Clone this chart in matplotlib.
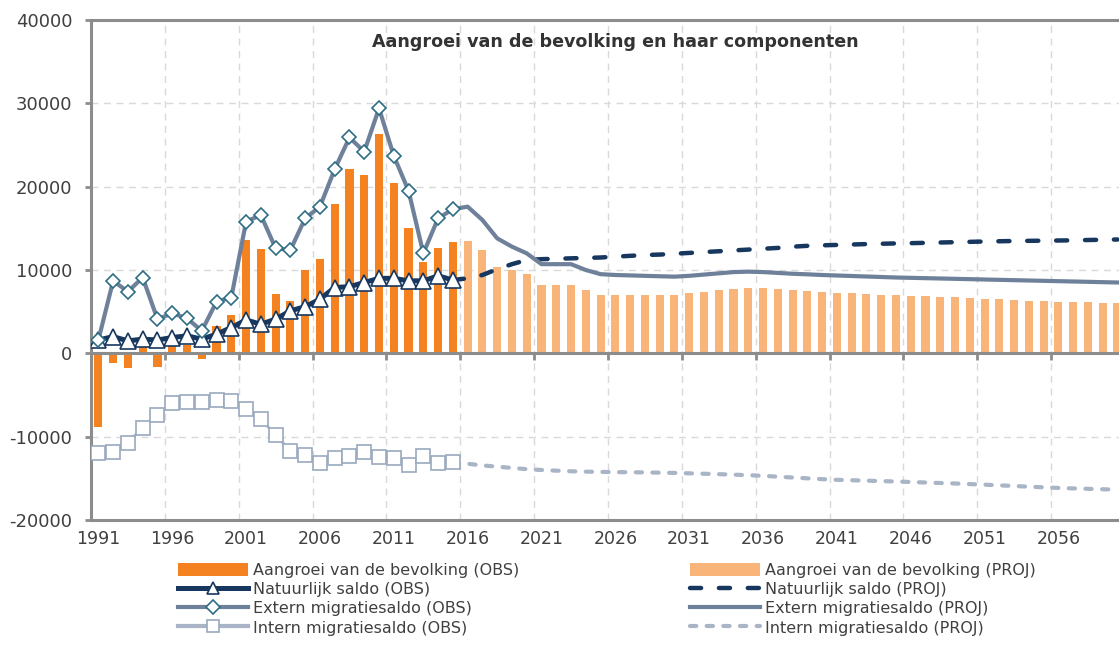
import matplotlib
matplotlib.use("Agg")
import matplotlib.pyplot as plt
from matplotlib.lines import Line2D
from matplotlib.patches import Patch
import numpy as np

# ---------------- data ----------------
years_obs = list(range(1991, 2016))
years_proj_bar = list(range(2016, 2061))
years_proj_line = list(range(2015, 2061))

growth_obs = [-8800, -1100, -1800, 1900, -1600, 1300, 1000, -700, 3300, 4600,
              13600, 12500, 7100, 6300, 10000, 11300, 17900, 22100, 21400, 26300,
              20400, 15100, 11000, 12600, 13400]
growth_proj = [13440, 12360, 10360, 9960, 9520, 8160, 8200, 8240, 7600, 7040,
               6960, 6960, 7000, 7000, 7000, 7240, 7400, 7600, 7760, 7880,
               7800, 7680, 7560, 7480, 7360, 7280, 7200, 7120, 7040, 7000,
               6920, 6840, 6800, 6720, 6640, 6560, 6480, 6400, 6320, 6240,
               6200, 6160, 6120, 6080, 6040]

natural_obs = [1600, 2000, 1500, 1700, 1600, 1900, 2100, 1700, 2300, 3100,
               4000, 3500, 4100, 5100, 5600, 6500, 7900, 8000, 8500, 9000,
               9000, 8700, 8700, 9300, 8800]
natural_proj = [8800, 9000, 9400, 10100, 10700, 11200, 11300, 11350, 11400, 11450,
                11500, 11600, 11700, 11800, 11850, 11950, 12050, 12150, 12250, 12350,
                12450, 12550, 12650, 12800, 12900, 12960, 13010, 13060, 13110, 13150,
                13190, 13220, 13260, 13300, 13340, 13380, 13420, 13450, 13480, 13500,
                13520, 13540, 13560, 13600, 13630, 13660]

extern_obs = [1600, 8700, 7400, 9100, 4100, 4800, 4200, 2700, 6200, 6700,
              15800, 16600, 12600, 12400, 16200, 17600, 22100, 25900, 24200, 29400,
              23700, 19500, 12000, 16200, 17300]
extern_proj = [17300, 17600, 16000, 13800, 12800, 12000, 10700, 10700, 10700, 10000,
               9500, 9400, 9350, 9300, 9250, 9200, 9300, 9450, 9600, 9750,
               9800, 9750, 9650, 9550, 9480, 9400, 9340, 9280, 9220, 9160,
               9100, 9060, 9020, 8980, 8940, 8900, 8860, 8820, 8780, 8740,
               8700, 8660, 8620, 8580, 8540, 8500]

intern_obs = [-12000, -11800, -10700, -8900, -7400, -6000, -5800, -5800, -5600, -5700,
              -6700, -7900, -9800, -11700, -12200, -13200, -12600, -12300, -11800, -12400,
              -12600, -13400, -12300, -13100, -13000]
intern_proj = [-13000, -13250, -13450, -13600, -13750, -13900, -14000, -14080, -14150, -14200,
               -14230, -14250, -14270, -14290, -14320, -14350, -14400, -14450, -14500, -14560,
               -14620, -14700, -14800, -14900, -15000, -15100, -15180, -15230, -15280, -15330,
               -15380, -15440, -15500, -15560, -15620, -15690, -15760, -15840, -15920, -16000,
               -16080, -16150, -16210, -16260, -16310, -16360]

xtick_years = list(range(1991, 2060, 5))
yticks = [-20000, -10000, 0, 10000, 20000, 30000, 40000]

title = "Aangroei van de bevolking en haar componenten"
labels_obs = ["Aangroei van de bevolking (OBS)", "Natuurlijk saldo (OBS)",
              "Extern migratiesaldo (OBS)", "Intern migratiesaldo (OBS)"]
labels_proj = ["Aangroei van de bevolking (PROJ)", "Natuurlijk saldo (PROJ)",
               "Extern migratiesaldo (PROJ)", "Intern migratiesaldo (PROJ)"]

# ---------------- style ----------------
C_BAR_OBS = "#F58220"
C_BAR_PROJ = "#F9B47A"
C_NAT = "#17375E"
C_EXT = "#6F819A"
C_EXT_EDGE = "#2E6E85"
C_INT = "#A9B5C6"
C_INT_EDGE = "#9AA9BD"
C_GRID = "#D9D9D9"
C_AXIS = "#8C8C8C"
C_TEXT = "#404040"

plt.rcParams['font.family'] = ['DejaVu Sans']

W, H = 1119, 646
fig = plt.figure(figsize=(W / 100, H / 100), dpi=100)
px_per_year = 14.77
left_px, top_px, bottom_px = 91, 20, 520
ax_w = 70 * px_per_year
ax = fig.add_axes([left_px / W, 1 - bottom_px / H, ax_w / W, (bottom_px - top_px) / H])
ax.set_xlim(1990.5, 2060.5)
ax.set_ylim(-20000, 40000)

# grid
for yv in yticks:
    if yv not in (0, 40000, -20000):
        ax.axhline(yv, color=C_GRID, lw=1.0, ls=(0, (5, 4)), zorder=0)
bounds = [y - 0.5 for y in xtick_years[1:]]
for xb in bounds:
    ax.axvline(xb, color=C_GRID, lw=1.0, ls=(0, (5, 4)), zorder=0)

# bars
bw = 0.55
ax.bar(years_obs, growth_obs, width=bw, color=C_BAR_OBS, zorder=2)
ax.bar(years_proj_bar, growth_proj, width=bw, color=C_BAR_PROJ, zorder=2)

# zero axis with tick marks
ax.axhline(0, color=C_AXIS, lw=2.2, zorder=3)
ax.plot(bounds, [0] * len(bounds), ls='none', marker=3, ms=5, mew=2, color=C_AXIS, zorder=3)

# lines
ax.plot(years_proj_line, intern_proj, color=C_INT, lw=3.0,
        ls=(0, (1.5, 2.5)), dash_capstyle='round', zorder=4)
ax.plot(years_obs, intern_obs, color=C_INT, lw=2.0, marker='s', ms=9.5,
        mfc='white', mec=C_INT_EDGE, mew=1.2, zorder=5)

ax.plot(years_proj_line, natural_proj, color=C_NAT, lw=3.2,
        ls=(0, (2.5, 4.0)), dash_capstyle='round', zorder=4)
ax.plot(years_obs, natural_obs, color=C_NAT, lw=3.6, marker='^', ms=11,
        mfc='white', mec=C_NAT, mew=1.2, zorder=5)

ax.plot(years_proj_line, extern_proj, color=C_EXT, lw=3.0, zorder=4)
ax.plot(years_obs, extern_obs, color=C_EXT, lw=3.0, marker='D', ms=7.6,
        mfc='white', mec=C_EXT_EDGE, mew=1.2, zorder=6)

# axes styling
for s in ['top', 'left', 'bottom']:
    ax.spines[s].set_color(C_AXIS)
    ax.spines[s].set_linewidth(2.2)
ax.spines['right'].set_visible(False)
ax.set_yticks(yticks)
ax.set_yticklabels([str(v) for v in yticks])
ax.set_xticks(xtick_years)
ax.set_xticklabels([str(v) for v in xtick_years])
ax.tick_params(axis='y', length=4.5, width=2, color=C_AXIS, pad=9,
               labelsize=13, labelcolor=C_TEXT)
ax.tick_params(axis='x', length=0, pad=7, labelsize=12.5, labelcolor=C_TEXT)

fig.text(615 / W, 1 - 42 / H, title, ha='center', va='center',
         fontsize=12.6, fontweight='bold', color='#333333')

# legends
h_obs = [Patch(facecolor=C_BAR_OBS, edgecolor='none'),
         Line2D([], [], color=C_NAT, lw=3.6, marker='^', ms=9, mfc='white', mec=C_NAT, mew=1.2),
         Line2D([], [], color=C_EXT, lw=3.0, marker='D', ms=7, mfc='white', mec=C_EXT_EDGE, mew=1.2),
         Line2D([], [], color=C_INT, lw=3.0, marker='s', ms=9, mfc='white', mec=C_INT_EDGE, mew=1.2)]
h_proj = [Patch(facecolor=C_BAR_PROJ, edgecolor='none'),
          Line2D([], [], color=C_NAT, lw=3.2, ls=(0, (2.5, 4.0)), dash_capstyle='round'),
          Line2D([], [], color=C_EXT, lw=3.0),
          Line2D([], [], color=C_INT, lw=3.0, ls=(0, (1.5, 2.5)), dash_capstyle='round')]

leg_kw = dict(loc='upper left', frameon=False, fontsize=11.5, borderpad=0,
              handlelength=4.4, handletextpad=0.3, labelspacing=0.25,
              handleheight=0.9, labelcolor=C_TEXT)
l1 = fig.legend(h_obs, labels_obs, bbox_to_anchor=(170 / W, 1 - 555 / H), **leg_kw)
l2 = fig.legend(h_proj, labels_proj, bbox_to_anchor=(682 / W, 1 - 555 / H), **leg_kw)

fig.savefig("out.png", dpi=100)
